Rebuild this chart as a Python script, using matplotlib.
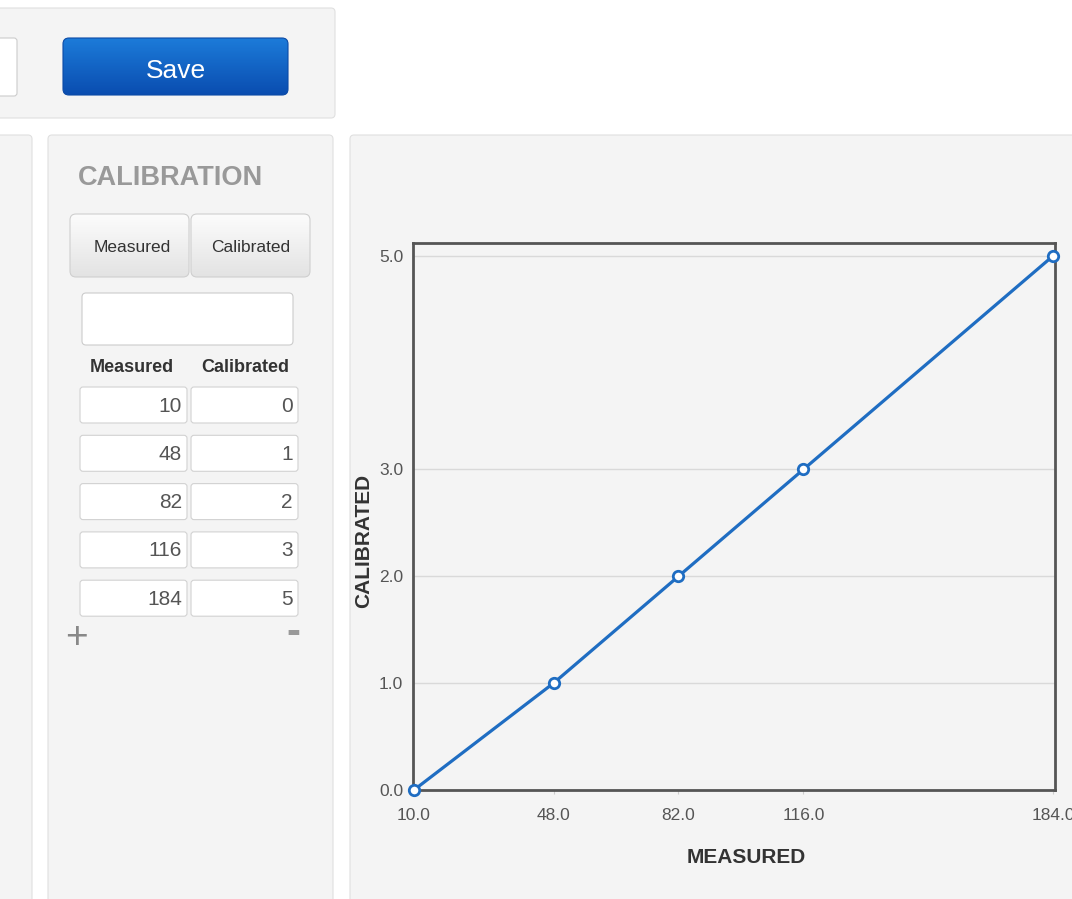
import numpy as np
import matplotlib.pyplot as plt
from matplotlib.patches import FancyBboxPatch
from matplotlib.colors import LinearSegmentedColormap

plt.rcParams['font.family'] = ['Liberation Sans', 'DejaVu Sans']

# calibration table / curve
measured = [10, 48, 82, 116, 184]
calibrated = [0, 1, 2, 3, 5]
x_ticks = [10, 48, 82, 116, 184]
y_ticks = [0, 1, 2, 3, 5]

W, H = 1072, 899
PANEL = '#f4f4f4'
EDGE = '#e0e0e0'


def box(ax, x, y, w, h, fc, ec, r=4, lw=0.8, z=1):
    p = FancyBboxPatch((x, y), w, h, boxstyle=f"round,pad=0,rounding_size={r}",
                       fc=fc, ec=ec, lw=lw, zorder=z)
    ax.add_patch(p)
    return p


def grad_box(ax, x, y, w, h, c1, c2, ec, r=5, z=2):
    p = box(ax, x, y, w, h, 'none', ec, r=r, z=z + 1)
    cmap = LinearSegmentedColormap.from_list('g', [c1, c2])
    g = np.linspace(0, 1, 64)[:, None]
    im = ax.imshow(g, cmap=cmap, extent=(x, x + w, y + h, y), aspect='auto', zorder=z)
    im.set_clip_path(p)
    return p


def main():
    fig = plt.figure(figsize=(W / 100, H / 100), dpi=100)
    fig.patch.set_facecolor('white')

    bg = fig.add_axes([0, 0, 1, 1])
    bg.axis('off')

    # panels
    box(bg, -10, 8, 345, 110, PANEL, EDGE)
    box(bg, -10, 135, 42, 800, PANEL, EDGE)
    box(bg, 48, 135, 285, 800, PANEL, EDGE)
    box(bg, 350, 135, 740, 800, PANEL, EDGE)

    # top bar
    box(bg, -10, 38, 27, 58, 'white', '#cccccc', r=3, z=2)
    grad_box(bg, 63, 38, 225, 57, '#1c7bd9', '#0a4db0', '#0b4aa6', r=6)
    bg.text(175.5, 71, 'Save', color='white', fontsize=19, ha='center', va='center', zorder=5)

    # calibration panel
    bg.text(78, 178, 'CALIBRATION', color='#999999', fontsize=19.5, fontweight='bold',
            ha='left', va='center')
    grad_box(bg, 70, 214, 119, 63, '#fcfcfc', '#e3e3e3', '#cfcfcf', r=6)
    grad_box(bg, 191, 214, 119, 63, '#fcfcfc', '#e3e3e3', '#cfcfcf', r=6)
    bg.text(132, 248, 'Measured', color='#333333', fontsize=12.5, ha='center', va='center', zorder=5)
    bg.text(251, 247, 'Calibrated', color='#333333', fontsize=12.5, ha='center', va='center', zorder=5)
    box(bg, 82, 293, 211, 52, 'white', '#cccccc', r=4, z=2)
    bg.text(132, 367, 'Measured', color='#333333', fontsize=13, fontweight='bold', ha='center', va='center')
    bg.text(245, 367, 'Calibrated', color='#333333', fontsize=13, fontweight='bold', ha='center', va='center')

    for i, (m, c) in enumerate(zip(measured, calibrated)):
        y = 387 + i * 48.3
        box(bg, 80, y, 107, 36, 'white', '#d2d2d2', r=3, z=2)
        box(bg, 191, y, 107, 36, 'white', '#d2d2d2', r=3, z=2)
        bg.text(182, y + 19, str(m), color='#555555', fontsize=15, ha='right', va='center', zorder=5)
        bg.text(293, y + 19, str(c), color='#555555', fontsize=15, ha='right', va='center', zorder=5)

    bg.text(76, 638, '+', color='#888888', fontsize=28, ha='center', va='center')
    bg.text(293, 633, '-', color='#999999', fontsize=30, fontweight='bold', ha='center', va='center')

    bg.set_xlim(0, W)
    bg.set_ylim(H, 0)

    # chart
    ax = fig.add_axes([413 / W, 1 - 790 / H, 642 / W, 547 / H])
    ax.set_facecolor(PANEL)
    ax.plot(measured, calibrated, color='#1f6dc2', lw=2.3, marker='o', ms=7.5,
            mfc='white', mec='#1f6dc2', mew=2, zorder=5, clip_on=False)
    ax.set_xlim(9.75, 184.5)
    ax.set_ylim(0, 5.12)
    ax.set_xticks(x_ticks, [f"{v:.1f}" for v in x_ticks])
    ax.set_yticks(y_ticks, [f"{v:.1f}" for v in y_ticks])
    ax.tick_params(axis='y', length=0, pad=7, labelsize=12.5, labelcolor='#555555')
    ax.tick_params(axis='x', length=3, color='#cccccc', pad=10, labelsize=12.5, labelcolor='#555555')
    ax.yaxis.grid(True, color='#d9d9d9', lw=1)
    ax.set_axisbelow(True)
    for s in ax.spines.values():
        s.set_color('#555555')
        s.set_linewidth(2)

    ax.set_xlabel('MEASURED', fontsize=15, fontweight='bold', color='#333333')
    ax.xaxis.set_label_coords(0.519, -0.106)
    ax.set_ylabel('CALIBRATED', fontsize=15, fontweight='bold', color='#333333')
    ax.yaxis.set_label_coords(-0.062, 0.455)

    fig.savefig('out.png', dpi=100)


if __name__ == "__main__":
    main()
